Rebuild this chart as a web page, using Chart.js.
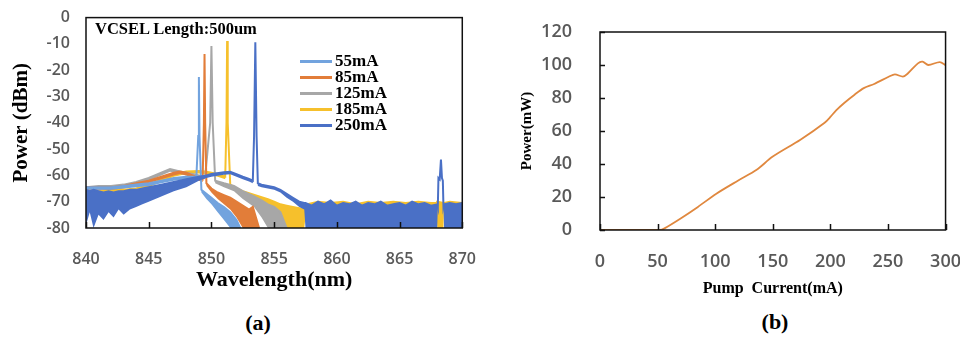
<!DOCTYPE html>
<html>
<head>
<meta charset="utf-8">
<script src="https://cdn.jsdelivr.net/npm/chart.js@4.4.0/dist/chart.umd.min.js"></script>
<style>
  body { margin: 0; background: #fff; width: 960px; height: 337px; position: relative; overflow: hidden; font-family: "Liberation Serif", serif; }
  .pane { position: absolute; top: 0; height: 300px; }
  .cap { position: absolute; font-weight: bold; font-size: 22px; transform: translate(-50%, -50%); }
  #note { position: absolute; left: 95px; top: 19px; font-weight: bold; font-size: 16.5px; white-space: nowrap; }
  #legend { position: absolute; left: 300px; top: 53px; }
  .row { height: 16px; display: flex; align-items: center; font-weight: bold; font-size: 17px; }
  .row i { display: inline-block; width: 32px; height: 3px; margin-right: 3px; }
</style>
</head>
<body>
<div class="pane" style="left:0; width:490px"><canvas id="spec" width="490" height="300"></canvas></div>
<div class="pane" style="left:480px; width:494px"><canvas id="liv" width="494" height="300"></canvas></div>
<div id="note">VCSEL Length:500um</div>
<div id="legend"></div>
<div class="cap" style="left:258px; top:323px">(a)</div>
<div class="cap" style="left:775px; top:322px">(b)</div>
<script>
// --- (a) spectra: wavelength (nm), upper / lower edge of trace (dBm)
var names = ['55mA', '85mA', '125mA', '185mA', '250mA'];
var colors = ['#72A3DE', '#E27D39', '#A7A7A7', '#F6C02C', '#4A70C6'];

var wl55 = [840, 841, 842, 843, 844, 845, 846, 847, 848, 848.8, 848.95, 849.0, 849.05, 849.2, 849.6, 850, 850.5, 851, 851.5, 852, 852.3];
var hi55 = [-64.5, -64.5, -64.5, -64, -63.5, -63, -62, -61, -60.5, -60.5, -45, -22.6, -45, -65.5, -67, -68.5, -70.5, -72, -74, -77, -80];
var lo55 = [-65.5, -65.5, -65.5, -65, -64.5, -64, -63, -62, -61.5, -61, -45, -22.6, -45, -66.5, -69, -71, -74, -77, -80, -80, -80];

var wl85 = [840, 841, 842, 843, 844, 845, 846, 847, 847.5, 848, 848.5, 849, 849.3, 849.4, 849.45, 849.5, 849.6, 850, 850.5, 851, 851.5, 852, 852.5, 853, 853.3, 853.8];
var hi85 = [-64.5, -64.5, -64.5, -64, -63, -62, -60.5, -59, -58.5, -59, -60, -61, -61.5, -40, -13.8, -40, -63, -65, -66.5, -67.5, -68.5, -70, -71.5, -73, -72, -80];
var lo85 = [-65.5, -65.5, -65.5, -65, -64, -63, -61.5, -60, -59.5, -60, -61, -62, -62.5, -40, -13.8, -40, -64, -66.5, -69, -71, -73, -76, -80, -80, -80, -80];

var wl125 = [840, 841, 842, 843, 844, 845, 846, 846.7, 847.5, 848, 848.5, 849, 849.5, 849.9, 850.0, 850.1, 850.3, 851, 851.8, 852.5, 853.4, 854, 854.5, 855, 855.5, 856];
var hi125 = [-64.5, -64, -64, -63.5, -62.5, -61, -59, -57.6, -58.5, -59, -59.5, -60, -60.5, -40, -10.8, -40, -62, -63, -64, -66, -68, -69.5, -71, -72, -74, -80];
var lo125 = [-65.5, -65, -65, -64.5, -63.5, -62, -60, -58.6, -59.5, -60, -60.5, -61, -61.5, -40, -10.8, -40, -63, -64.5, -66, -69, -72, -76, -80, -80, -80, -80];

var wl185 = [840, 841, 842, 843, 844, 845, 846, 847, 848, 849, 849.5, 850, 850.5, 851.1, 851.2, 851.25, 851.3, 851.5, 852, 852.5, 853.5, 854.5, 855, 855.5, 856, 856.5, 857, 857.4, 857.6, 858.5, 859.5, 860.5, 861.5, 862.5, 863.5, 864.5, 865.5, 866.5, 867.5, 867.95, 868.0, 868.5, 868.55, 869, 870];
var hi185 = [-66, -66, -65.5, -65.5, -65, -63.5, -61.5, -59.5, -58.5, -58.3, -58.5, -59, -59.5, -60.5, -40, -8.9, -40, -63.5, -65, -66, -67.5, -69, -70, -71, -71.5, -72, -72.5, -73, -71, -70, -70.5, -70, -71, -70, -70.5, -70, -70.5, -70, -70.5, -70.5, -70, -70.5, -70.5, -70, -70.5];
var lo185 = [-67, -67, -66.5, -66.5, -66, -64.5, -62.5, -60.5, -59.5, -59.3, -59.5, -60, -60.5, -61.5, -40, -8.9, -40, -64.5, -66, -67.5, -69, -72, -80, -80, -80, -80, -80, -80, -72, -72, -72, -72, -72, -72, -72, -72, -72, -72, -72, -72, -80, -80, -72, -72, -72];

var wl250 = [840, 840.3, 840.6, 841, 841.4, 841.8, 842.2, 842.6, 843, 843.5, 844, 844.5, 845, 846, 847, 848, 849, 849.6, 850, 851, 851.5, 852, 852.5, 853, 853.3, 853.4, 853.5, 853.6, 853.7, 854, 854.5, 855, 855.5, 856, 856.5, 857, 857.4, 857.5,
  858, 858.5, 859, 859.5, 860, 860.5, 861, 861.5, 862, 862.5, 863, 863.5, 864, 864.5, 865, 865.5, 866, 866.5, 867, 867.5, 868, 868.05, 868.1, 868.2, 868.3, 868.38, 868.45, 868.5, 868.55, 869, 869.5, 870];
var hi250 = [-65.5, -66, -65.5, -66, -66.5, -66, -66.5, -66, -66, -65.5, -65.5, -65, -64.5, -63.5, -62.5, -61.5, -60.5, -60, -59.5, -58.8, -58.6, -59.5, -60.5, -61.3, -62, -45, -9.4, -45, -63, -63.5, -64, -64.5, -65.5, -67, -68.5, -70, -70.5, -70.5,
  -71.5, -70, -71, -69.5, -71.5, -70.5, -71, -70, -71.5, -70.5, -71, -70, -71.5, -71, -70.5, -71.5, -70, -71, -70.5, -71.5, -71, -72, -61, -61.5, -54, -61, -62, -72, -71, -70.5, -71, -70.5];
var lo250 = [-79, -74, -80, -75, -77, -74, -76, -73, -75, -73, -72, -71, -70, -68, -66, -64.5, -62, -61, -60.5, -59.8, -59.6, -60.5, -61.5, -62.3, -63, -45, -9.4, -45, -64, -64.5, -65, -65.5, -66.5, -68.5, -70, -72, -73, -80,
  -80, -80, -80, -80, -80, -80, -80, -80, -80, -80, -80, -80, -80, -80, -80, -80, -80, -80, -80, -80, -80, -72, -61, -61.5, -54, -61, -62, -72, -80, -80, -80, -80];

// --- (b) L-I curve
var current = [0, 52, 56, 70, 85, 101, 120, 136, 150, 174, 195, 200, 205, 212, 221, 229, 238, 251, 256, 263, 267, 276, 280, 285, 295, 300];
var power = [0, 0, 1, 7, 14, 22, 30, 36.5, 44.5, 54.7, 65, 68.5, 72.5, 77, 82, 86, 88.5, 93, 94.3, 93, 94.7, 101, 102, 100, 101.8, 99.8];

var tickFont = { family: 'Open Sans', weight: '600' };
var titleFont = { family: 'Liberation Serif', weight: 'bold' };

// frame round the plot and short inward tick marks
var framePlugin = {
  id: 'frame',
  afterDatasetsDraw: function(chart, args, opts) {
    var ctx = chart.ctx, a = chart.chartArea;
    ctx.save();
    ctx.strokeStyle = '#111';
    ctx.lineWidth = 1.5;
    ctx.strokeRect(a.left, a.top, a.right - a.left, a.bottom - a.top);
    var sx = chart.scales.x, sy = chart.scales.y;
    ctx.beginPath();
    sx.ticks.forEach(function(t) {
      var px = Math.round(sx.getPixelForValue(t.value)) + 0.5;
      ctx.moveTo(px, a.bottom); ctx.lineTo(px, a.bottom - 6);
    });
    if (opts.yTicks) {
      sy.ticks.forEach(function(t) {
        var py = Math.round(sy.getPixelForValue(t.value)) + 0.5;
        ctx.moveTo(a.left, py); ctx.lineTo(a.left + 5, py);
      });
    }
    ctx.stroke();
    ctx.restore();
  }
};

var series = [
  [wl250, hi250, lo250, 4],
  [wl55, hi55, lo55, 0],
  [wl85, hi85, lo85, 1],
  [wl125, hi125, lo125, 2],
  [wl185, hi185, lo185, 3]
];
function pts(xs, ys) { return xs.map(function(x, i) { return { x: x, y: ys[i] }; }); }

var datasets = [];
series.forEach(function(s, i) {
  var c = colors[s[3]];
  datasets.push({
    label: names[s[3]], data: pts(s[0], s[1]), borderColor: c, backgroundColor: c,
    borderWidth: 2, pointRadius: 0, tension: 0,
    fill: { target: series.length + i, above: c, below: c }
  });
});
series.forEach(function(s) {
  var c = colors[s[3]];
  datasets.push({ label: '', data: pts(s[0], s[2]), borderColor: c, borderWidth: 0, pointRadius: 0, fill: false });
});

new Chart(document.getElementById('spec'), {
  type: 'line',
  data: { datasets: datasets },
  plugins: [framePlugin],
  options: {
    responsive: false, animation: false, maintainAspectRatio: false,
    layout: { padding: { left: 0, right: 0, top: 16, bottom: 0 } },
    plugins: { legend: { display: false }, tooltip: { enabled: false }, frame: { yTicks: false } },
    scales: {
      x: {
        type: 'linear', min: 840, max: 870,
        afterFit: function(s) { s.height = 72; },
        grid: { display: false },
        border: { display: false },
        ticks: { stepSize: 5, padding: 14, color: '#595959', font: Object.assign({ size: 16 }, tickFont) },
        title: { display: true, text: 'Wavelength(nm)', color: '#000', padding: { top: 0, bottom: 6 }, font: Object.assign({ size: 22 }, titleFont) }
      },
      y: {
        min: -80, max: 0,
        afterFit: function(s) { s.width = 86; },
        grid: { display: false },
        border: { display: false },
        ticks: { stepSize: 10, padding: 8, color: '#595959', font: Object.assign({ size: 16 }, tickFont) },
        title: { display: true, text: 'Power (dBm)', color: '#000', padding: { top: 9, bottom: 0 }, font: Object.assign({ size: 21 }, titleFont) }
      }
    }
  }
});

// legend for (a)
var leg = document.getElementById('legend');
names.forEach(function(n, i) {
  var row = document.createElement('div');
  row.className = 'row';
  row.innerHTML = '<i style="background:' + colors[i] + '"></i>' + n;
  leg.appendChild(row);
});

new Chart(document.getElementById('liv'), {
  type: 'line',
  data: {
    datasets: [{
      label: 'Power', data: pts(current, power), borderColor: '#E0883F',
      borderWidth: 1.8, pointRadius: 0, tension: 0.3, fill: false
    }]
  },
  plugins: [framePlugin],
  options: {
    responsive: false, animation: false, maintainAspectRatio: false,
    layout: { padding: { left: 0, right: 0, top: 32, bottom: 0 } },
    plugins: { legend: { display: false }, tooltip: { enabled: false }, frame: { yTicks: true } },
    scales: {
      x: {
        type: 'linear', min: 0, max: 300,
        afterFit: function(s) { s.height = 70; },
        grid: { display: false },
        border: { display: false },
        ticks: { stepSize: 50, padding: 13, color: '#595959', font: Object.assign({ size: 18 }, tickFont) },
        title: { display: true, text: 'Pump  Current(mA)', color: '#000', padding: { top: 0, bottom: 2 }, font: Object.assign({ size: 16 }, titleFont) }
      },
      y: {
        min: 0, max: 120,
        afterFit: function(s) { s.width = 120; },
        grid: { display: false },
        border: { display: false },
        ticks: { stepSize: 20, padding: 20, color: '#595959', font: Object.assign({ size: 18 }, tickFont) },
        title: { display: true, text: 'Power(mW)', color: '#000', padding: { top: 38, bottom: 0 }, font: Object.assign({ size: 15 }, titleFont) }
      }
    }
  }
});
</script>
</body>
</html>
